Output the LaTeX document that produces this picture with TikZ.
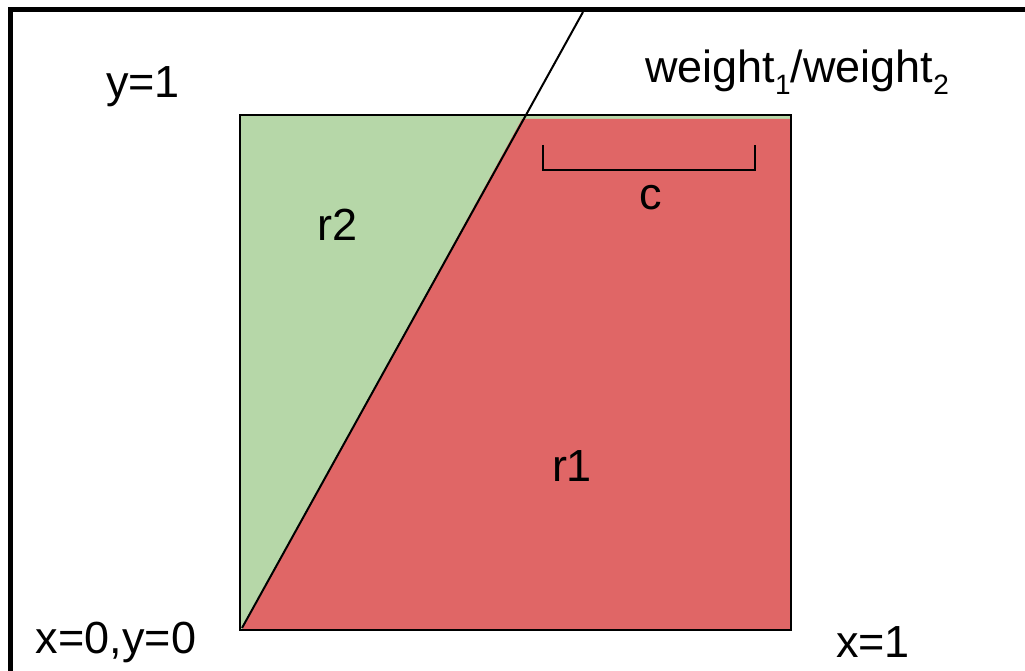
\documentclass[tikz,border=0pt]{standalone}
\usepackage{fontspec}
\setmainfont{Liberation Sans}
\definecolor{gfill}{HTML}{B6D7A8}
\definecolor{rfill}{HTML}{E06666}
\newcommand{\lowsub}[1]{\raisebox{-0.28em}{\fontsize{28}{30}\selectfont #1}}
\tikzset{
  lbl/.style={font=\fontsize{45}{52}\selectfont, inner sep=0pt, anchor=center},
  edge/.style={line width=1.5pt, black},
}
\begin{document}
\begin{tikzpicture}[x=1pt,y=-1pt]
\useasboundingbox (0,0) rectangle (1025,671);
% frame (top and left only)
\draw[line width=5pt] (10,671) -- (10,9.5) -- (1025,9.5);
% coordinates
\coordinate (o) at (242,628);
\coordinate (t) at (583,12);
\coordinate (k) at (522,119);
% square
\fill[gfill] (240,115) rectangle (791,630);
\fill[rfill] (k) -- (791,119) -- (791,630) -- (242,630) -- cycle;
\draw[edge] (240,115) rectangle (791,630);
\draw[line width=2pt] (o) -- (t);
% bracket
\draw[line width=1.8pt] (543,145) -- (543,170) -- (755,170) -- (755,145);
% labels
\node[lbl] (y1) at (143,87) {y=1};
\node[lbl] (w) at (797,72) {weight\lowsub{1}/weight\lowsub{2}};
\node[lbl] (c) at (651,198) {c};
\node[lbl] (r2) at (338,225) {r2};
\node[lbl] (r1) at (572,466) {r1};
\node[lbl] (xy0) at (116,642) {x=0,y=0};
\node[lbl] (x1) at (873,642) {x=1};
\end{tikzpicture}
\end{document}
